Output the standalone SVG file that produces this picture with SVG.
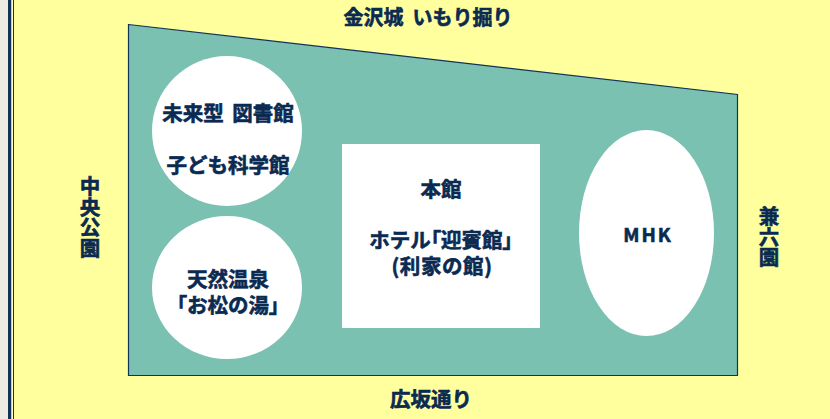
<svg xmlns="http://www.w3.org/2000/svg" width="830" height="419" viewBox="0 0 830 419">
<style>
text{font-family:"Noto Sans CJK JP","Liberation Sans",sans-serif;font-weight:700;font-size:20.5px;fill:#0a2a52;stroke:#0a2a52;stroke-width:.6;text-anchor:middle}
.w{fill:#fff}
.v{writing-mode:vertical-rl}
.p{font-feature-settings:"palt"}
</style>
<rect width="830" height="419" fill="#ffff9e"/>
<rect width="8" height="419" fill="#ecebe4"/>
<rect x="8" width="3.500" height="419" fill="#12325a"/>
<rect x="11.500" width="1.500" height="419" fill="#ffffd0"/>
<rect x="13" width="1" height="419" fill="#12325a"/>
<g id="site"><polygon points="128.500,24.500 737.500,94.500 737.500,375.500 128.500,375.500" fill="#7bc1b2" stroke="#12325a" stroke-width="1.200"/></g>
<g id="library"><ellipse class="w" cx="227" cy="131" rx="75" ry="75"/><text x="228" y="121" style="word-spacing:4px">未来型 図書館</text><text x="228" y="173">子ども科学館</text></g>
<g id="onsen"><ellipse class="w" cx="227" cy="287.500" rx="75" ry="71.500"/><text x="228" y="287">天然温泉</text><text x="228" y="313"><tspan class="p">「</tspan>お松の湯<tspan class="p">」</tspan></text></g>
<g id="main"><rect class="w" x="342" y="144" width="198" height="184"/><text x="441" y="197">本館</text><text x="441" y="248">ホテル<tspan class="p">「</tspan>迎賓館<tspan class="p">」</tspan></text><text x="442" y="274" style="letter-spacing:.6px">(利家の館)</text></g>
<g id="mhk"><ellipse class="w" cx="646.500" cy="233" rx="67.500" ry="103"/><text x="648" y="242" style="font-size:19px;letter-spacing:2px">MHK</text></g>
<g id="labels">
<text x="428" y="25" style="font-size:20px">金沢城&#160;&#160;いもり掘り</text>
<text x="431" y="407">広坂通り</text>
<text class="v" x="90" y="217">中央公園</text>
<text class="v" x="769" y="237">兼六園</text>
</g>
<g id="connectors"/>
</svg>
